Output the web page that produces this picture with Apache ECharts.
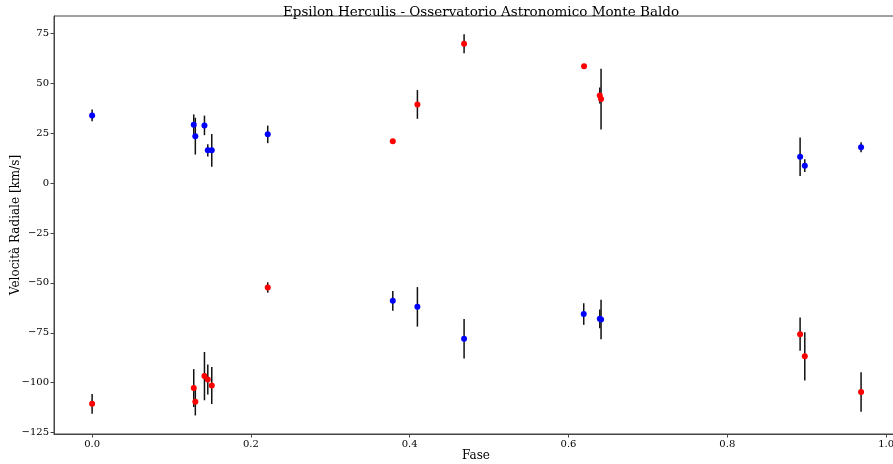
<!DOCTYPE html>
<html>
<head>
<meta charset="utf-8">
<script src="https://cdn.jsdelivr.net/npm/echarts@6/dist/echarts.min.js"></script>
<style>html,body{margin:0;padding:0;background:#fff}#c{width:893px;height:464px}</style>
</head>
<body>
<div id="c"></div>
<script>
// Blue component
var bluePhase = [0.000, 0.128, 0.130, 0.1415, 0.1457, 0.1507, 0.2212, 0.3787, 0.4097, 0.4685, 0.6192, 0.6394, 0.641, 0.8917, 0.8976, 0.9685];
var blueVel   = [33.9, 29.2, 23.5, 28.9, 16.4, 16.4, 24.4, -59.0, -62.0, -78.0, -65.6, -68.0, -68.3, 13.2, 8.7, 18.0];
var blueErr   = [2.9, 5.2, 9.2, 4.9, 3.1, 8.2, 4.4, 4.9, 9.9, 9.9, 5.4, 4.7, 9.9, 9.6, 3.2, 2.5];
// Red component
var redPhase = [0.000, 0.128, 0.130, 0.1415, 0.1457, 0.1507, 0.2212, 0.3787, 0.4097, 0.4685, 0.6196, 0.6394, 0.641, 0.8917, 0.8976, 0.9685];
var redVel   = [-110.6, -102.7, -109.6, -96.7, -98.4, -101.4, -52.3, 21.0, 39.4, 69.8, 58.5, 43.9, 42.1, -75.7, -86.8, -104.7];
var redErr   = [4.9, 9.5, 6.8, 12.1, 7.5, 9.3, 2.6, 0.6, 7.2, 4.8, 0.6, 4.0, 15.2, 8.3, 12.1, 9.9];
var xTicks = [0.0, 0.2, 0.4, 0.6, 0.8, 1.0];
var yTicks = [-125, -100, -75, -50, -25, 0, 25, 50, 75];

var FONT = "'DejaVu Serif', serif";
function pts(p, v) { return p.map(function (x, i) { return [x, v[i]]; }); }
function errData(p, v, e) { return p.map(function (x, i) { return [x, v[i] - e[i], v[i] + e[i]]; }); }
function errSeries(data) {
  return {
    type: 'custom', data: data, z: 1, silent: true, clip: false,
    encode: { x: 0, y: [1, 2] },
    renderItem: function (params, api) {
      var lo = api.coord([api.value(0), api.value(1)]);
      var hi = api.coord([api.value(0), api.value(2)]);
      return { type: 'line', shape: { x1: lo[0], y1: lo[1], x2: hi[0], y2: hi[1] },
        style: { stroke: '#111', lineWidth: 1.5 } };
    }
  };
}
var chart = echarts.init(document.getElementById('c'), null, { renderer: 'canvas' });
chart.setOption({
  animation: false,
  backgroundColor: '#fff',
  title: { text: 'Epsilon Herculis - Osservatorio Astronomico Monte Baldo', left: 476, textAlign: 'center', top: 0,
    textStyle: { fontFamily: FONT, fontSize: 13.5, fontWeight: 'normal', color: '#000' } },
  grid: { left: 54, top: 16, right: -5, bottom: 30, containLabel: false, outerBoundsMode: 'none',
    show: true, borderColor: '#444', borderWidth: 1, backgroundColor: 'transparent' },
  xAxis: {
    type: 'value', min: -0.048, max: 1.015,
    name: 'Fase', nameLocation: 'middle', nameGap: 16, nameMoveOverlap: false,
    nameTextStyle: { fontFamily: FONT, fontSize: 12, color: '#000' },
    axisLine: { show: true, onZero: false, lineStyle: { color: '#444', width: 1 } },
    axisTick: { show: true, length: 3.5, customValues: xTicks, lineStyle: { color: '#444' } },
    axisLabel: { customValues: xTicks, fontFamily: FONT, fontSize: 10, color: '#000', margin: 5,
      formatter: function (v) { return v.toFixed(1); } },
    splitLine: { show: false }
  },
  yAxis: {
    type: 'value', min: -125.7, max: 83.7,
    name: 'Velocità Radiale [km/s]', nameLocation: 'middle', nameGap: 32, nameRotate: 90, nameMoveOverlap: false,
    nameTextStyle: { fontFamily: FONT, fontSize: 12, color: '#000' },
    axisLine: { show: true, onZero: false, lineStyle: { color: '#444', width: 1 } },
    axisTick: { show: true, length: 3.5, customValues: yTicks, lineStyle: { color: '#444' } },
    axisLabel: { customValues: yTicks, fontFamily: FONT, fontSize: 10, color: '#000', margin: 5,
      formatter: function (v) { return String(v).replace('-', '\u2212'); } },
    splitLine: { show: false }
  },
  series: [
    errSeries(errData(bluePhase, blueVel, blueErr)),
    errSeries(errData(redPhase, redVel, redErr)),
    { type: 'scatter', data: pts(bluePhase, blueVel), symbol: 'circle', symbolSize: 6, z: 3,
      itemStyle: { color: '#0000ff', opacity: 1 } },
    { type: 'scatter', data: pts(redPhase, redVel), symbol: 'circle', symbolSize: 6, z: 3,
      itemStyle: { color: '#ff0000', opacity: 1 } }
  ]
});
</script>
</body>
</html>
